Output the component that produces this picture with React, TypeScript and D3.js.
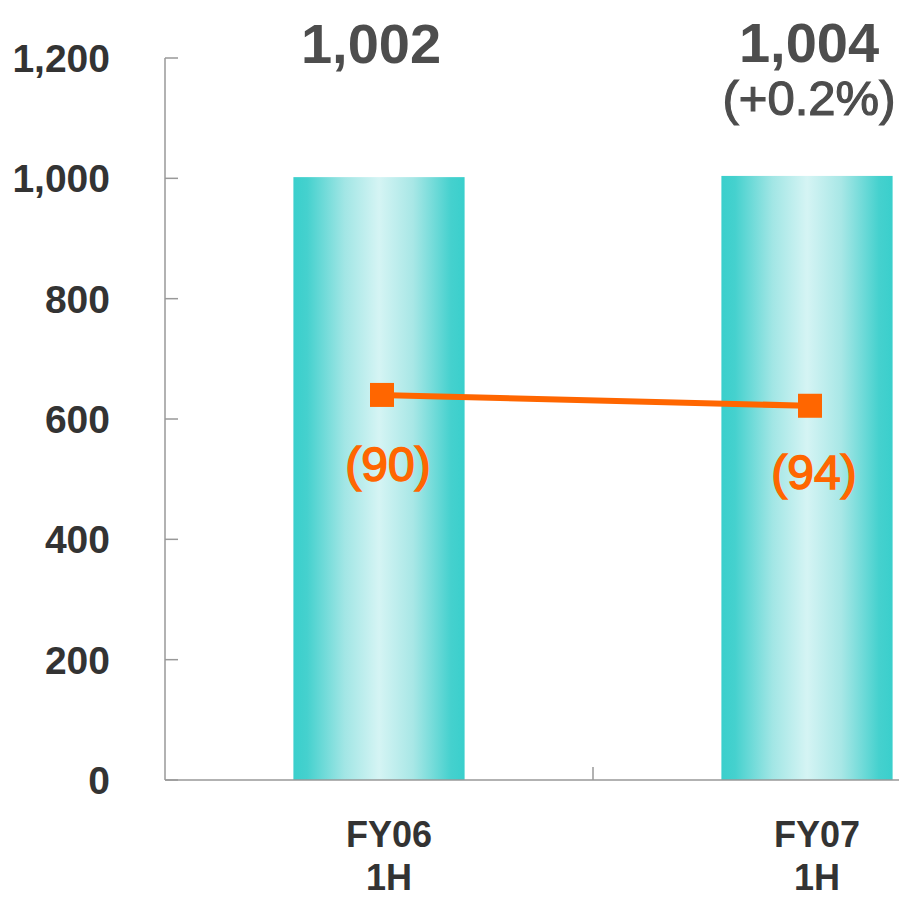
import React from "react";
import * as d3 from "d3";

const categories = ["FY06\n1H", "FY07\n1H"];
const barValues = [1002, 1004];
const barLabels = ["1,002", "1,004"];
const barSubLabels = ["", "(+0.2%)"];
const lineValues = [640, 622];
const lineLabels = ["(90)", "(94)"];
const yTicks = [0, 200, 400, 600, 800, 1000, 1200];

const W = 899;
const H = 900;
const FONT = "'Liberation Sans', Arial, sans-serif";

export default function App() {
  const y = d3.scaleLinear().domain([0, 1200]).range([780, 58]);
  const x = d3.scaleBand().domain(categories).range([165, 1021]).padding(0);
  const step = x.step();
  const barW = step * 0.4;
  const cx = (c: string) => (x(c) as number) + step / 2;

  const line = d3
    .line<number>()
    .x((_, i) => cx(categories[i]))
    .y((d) => y(d));

  return (
    <svg width={W} height={H} style={{ position: "absolute", left: 0, top: 0 }}>
      <defs>
        <linearGradient id="barGrad" x1="0" x2="1" y1="0" y2="0">
          <stop offset="0" stopColor="#3acfcc" />
          <stop offset="0.08" stopColor="#45d1ce" />
          <stop offset="0.3" stopColor="#a2e6e5" />
          <stop offset="0.5" stopColor="#d5f4f4" />
          <stop offset="0.7" stopColor="#a8e7e6" />
          <stop offset="0.92" stopColor="#45d1ce" />
          <stop offset="1" stopColor="#3acfcc" />
        </linearGradient>
      </defs>
      <rect width={W} height={H} fill="#fff" />
      {categories.map((c, i) => (
        <rect
          key={c}
          x={cx(c) - barW / 2}
          y={y(barValues[i])}
          width={barW}
          height={y(0) - y(barValues[i])}
          fill="url(#barGrad)"
        />
      ))}
      {/* axes */}
      <line x1={165} x2={165} y1={y(1200)} y2={y(0)} stroke="#999" strokeWidth={1.5} />
      <line x1={165} x2={W} y1={y(0)} y2={y(0)} stroke="#999" strokeWidth={1.5} />
      {yTicks.map((t) => (
        <g key={t}>
          <line x1={165} x2={178} y1={y(t)} y2={y(t)} stroke="#999" strokeWidth={1.5} />
          <text
            x={110}
            y={y(t)}
            dy="0.36em"
            textAnchor="end"
            fontFamily={FONT}
            fontWeight="bold"
            fontSize={39}
            fill="#333"
          >
            {d3.format(",")(t)}
          </text>
        </g>
      ))}
      {categories.slice(1).map((c) => (
        <line
          key={c}
          x1={x(c) as number}
          x2={x(c) as number}
          y1={y(0)}
          y2={y(0) - 13}
          stroke="#999"
          strokeWidth={1.5}
        />
      ))}
      {/* x labels */}
      {categories.map((c) =>
        c.split("\n").map((s, j) => (
          <text
            key={c + j}
            x={cx(c) + 10}
            y={847 + j * 43}
            textAnchor="middle"
            fontFamily={FONT}
            fontWeight="bold"
            fontSize={36}
            fill="#333"
          >
            {s}
          </text>
        ))
      )}
      {/* bar labels */}
      {categories.map((c, i) => (
        <g key={c}>
          <text
            x={cx(c) + (i === 0 ? -8 : 2)}
            y={i === 0 ? 63 : 62}
            textAnchor="middle"
            fontFamily={FONT}
            fontWeight="bold"
            fontSize={56}
            fill="#4d4d4d"
          >
            {barLabels[i]}
          </text>
          {barSubLabels[i] && (
            <text
              x={cx(c) + 2}
              y={115}
              textAnchor="middle"
              fontFamily={FONT}
              fontSize={49}
              fill="#4d4d4d"
              stroke="#4d4d4d"
              strokeWidth={1.2}
            >
              {barSubLabels[i]}
            </text>
          )}
        </g>
      ))}
      {/* line */}
      <path d={line(lineValues) || ""} fill="none" stroke="#ff6600" strokeWidth={6} />
      {lineValues.map((v, i) => (
        <rect
          key={i}
          x={cx(categories[i]) - 12 + 3}
          y={y(v) - 12}
          width={24}
          height={24}
          fill="#ff6600"
        />
      ))}
      {lineValues.map((v, i) => (
        <text
          key={i}
          x={cx(categories[i]) + (i === 0 ? 9 : 7)}
          y={y(v) + (i === 0 ? 86 : 83)}
          textAnchor="middle"
          fontFamily={FONT}
          fontSize={48}
          fill="#ff6600"
          stroke="#ff6600"
          strokeWidth={1.5}
        >
          {lineLabels[i]}
        </text>
      ))}
    </svg>
  );
}
